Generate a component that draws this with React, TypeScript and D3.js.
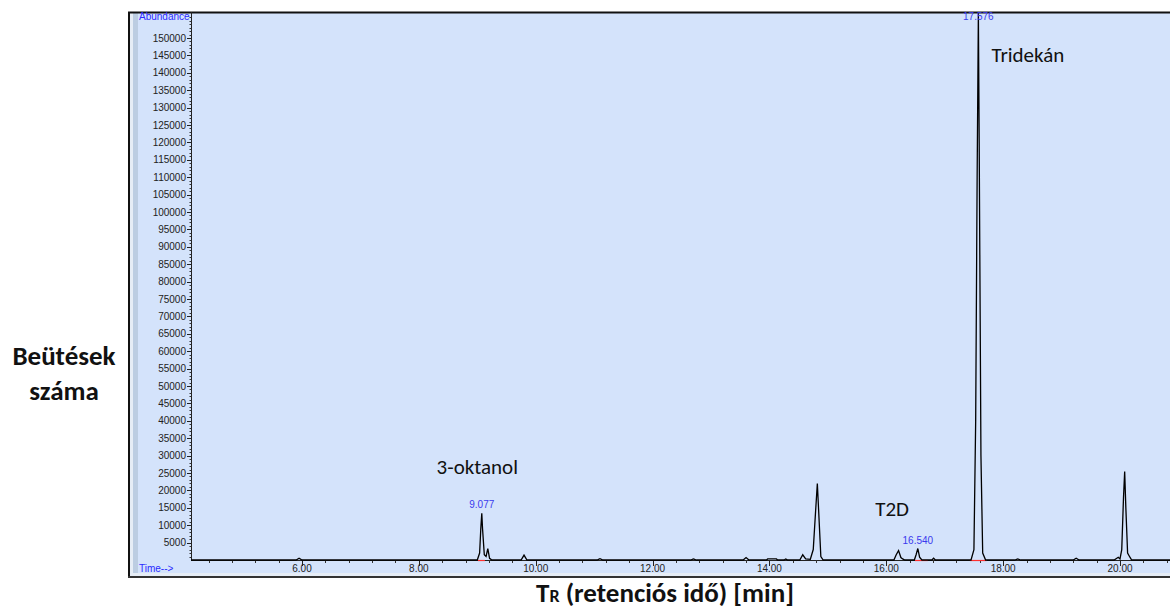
import React from "react";
import * as d3 from "d3";

// Chromatogram trace: [retention time (min), abundance]
const traceTimes: number[] = [
  4.1, 5.9, 5.95, 6.0,
  9.0, 9.04, 9.06, 9.077, 9.09, 9.12, 9.15, 9.18, 9.21, 9.25,
  9.75, 9.8, 9.85,
  11.05, 11.1, 11.15,
  12.65, 12.7, 12.75,
  13.55, 13.6, 13.65,
  13.95, 13.97, 14.12, 14.14,
  14.25, 14.28, 14.31,
  14.52, 14.57, 14.62,
  14.7, 14.75, 14.79, 14.82, 14.84, 14.88, 14.92,
  16.13, 16.17, 16.21, 16.25, 16.28, 16.32,
  16.48, 16.51, 16.54, 16.57, 16.61,
  16.78, 16.81, 16.84,
  17.45, 17.5, 17.53, 17.555, 17.576, 17.59, 17.62, 17.65, 17.7,
  18.2, 18.25, 18.3,
  19.2, 19.25, 19.3,
  19.9, 19.97, 20.0, 20.03, 20.06, 20.08, 20.1, 20.13, 20.17, 20.2,
  20.86,
];
const traceValues: number[] = [
  0, 0, 500, 0,
  0, 2000, 9000, 13400, 9000, 1500, 1000, 3300, 500, 0,
  0, 1400, 0,
  0, 400, 0,
  0, 300, 0,
  0, 700, 0,
  0, 300, 300, 0,
  0, 300, 0,
  0, 1500, 300,
  200, 3000, 14000, 22000, 15000, 1000, 0,
  0, 1500, 2700, 700, 300, 0,
  0, 1500, 3300, 800, 0,
  0, 500, 0,
  0, 3000, 40000, 110000, 157500, 120000, 30000, 2000, 0,
  0, 300, 0,
  0, 500, 0,
  0, 800, 300, 3000, 18000, 25400, 15000, 2000, 800, 0,
  0,
];

// Labelled peaks (retention time and apex abundance)
const peakTimes: number[] = [9.077, 16.54, 17.576];
const peakLabels: string[] = ["9.077", "16.540", "17.576"];
const peakHeights: number[] = [13400, 3300, 157500];

// Integration baselines (start, end in minutes)
const integStart: number[] = [9.01, 16.49, 17.43];
const integEnd: number[] = [9.13, 16.71, 17.72];

// Axis ticks
const xTickValues: number[] = [6, 8, 10, 12, 14, 16, 18, 20];
const xTickLabels: string[] = ["6.00", "8.00", "10.00", "12.00", "14.00", "16.00", "18.00", "20.00"];
const yTickValues: number[] = [
  5000, 10000, 15000, 20000, 25000, 30000, 35000, 40000, 45000, 50000,
  55000, 60000, 65000, 70000, 75000, 80000, 85000, 90000, 95000, 100000,
  105000, 110000, 115000, 120000, 125000, 130000, 135000, 140000, 145000, 150000,
];

// Compound annotations (anchor time, anchor abundance)
const compoundNames: string[] = ["3-oktanol", "T2D", "Tridekán"];
const compoundTimes: number[] = [9.0, 16.1, 17.8];
const compoundLevels: number[] = [24800, 12600, 143000];

const W = 1170;
const H = 609;
const frameLeft = 128;
const frameTop = 12;
const frameBottom = 577;
const axisX = 191;
const axisY = 560;

export default function App() {
  const x = d3.scaleLinear().domain([6, 20]).range([302, 1120]);
  const y = d3.scaleLinear().domain([0, 150000]).range([axisY, 38]);

  const points: [number, number][] = traceTimes.map((t, i) => [t, traceValues[i]]);
  const line = d3
    .line<[number, number]>()
    .x((d) => x(d[0]))
    .y((d) => Math.max(frameTop + 1, y(d[1])));

  const xMin = x.invert(axisX);
  const xMax = x.invert(W);
  const xMinor = d3.range(4.4, xMax, 0.4);
  const yMinor = d3.range(1000, 157000, 1000);

  const tickFont = "Arial, 'Liberation Sans', sans-serif";
  const noteFont = "Carlito, Calibri, Lato, 'Open Sans', sans-serif";

  return (
    <div style={{ position: "fixed", left: 0, top: 0, width: W, height: H, background: "#fff" }}>
      <svg width={W} height={H} style={{ display: "block" }}>
        <defs>
          <clipPath id="plotClip">
            <rect x={axisX} y={frameTop} width={W - axisX} height={axisY - frameTop + 2} />
          </clipPath>
        </defs>

        {/* Instrument frame */}
        <rect x={frameLeft} y={frameTop} width={W - frameLeft} height={frameBottom - frameTop} fill="#d4e3fb" />
        <rect x={frameLeft + 2} y={frameTop} width={3} height={frameBottom - frameTop} fill="#e6edf6" />
        <rect x={frameLeft + 5} y={frameTop} width={5} height={frameBottom - frameTop} fill="#bccde2" />
        <rect x={frameLeft} y={frameBottom - 4} width={W - frameLeft} height={3} fill="#e6edf6" />
        <line x1={frameLeft} x2={W} y1={frameTop + 0.5} y2={frameTop + 0.5} stroke="#111" strokeWidth={2} />
        <line x1={frameLeft + 1} x2={frameLeft + 1} y1={frameTop} y2={frameBottom} stroke="#111" strokeWidth={2} />
        <line x1={frameLeft} x2={W} y1={frameBottom} y2={frameBottom} stroke="#333" strokeWidth={2} />

        {/* Y axis */}
        <line x1={axisX + 0.5} x2={axisX + 0.5} y1={frameTop} y2={axisY} stroke="#222" strokeWidth={1} />
        {yMinor.map((v) => (
          <line key={"ym" + v} x1={axisX - 1.5} x2={axisX + 0.5} y1={Math.round(y(v)) + 0.5} y2={Math.round(y(v)) + 0.5} stroke="#333" strokeWidth={1} />
        ))}
        {yTickValues.map((v) => (
          <g key={"y" + v}>
            <line x1={axisX - 4} x2={axisX + 0.5} y1={Math.round(y(v)) + 0.5} y2={Math.round(y(v)) + 0.5} stroke="#222" strokeWidth={1} />
            <text x={axisX - 5} y={y(v)} dy="0.35em" textAnchor="end" fontFamily={tickFont} fontSize={10} fill="#222">
              {v}
            </text>
          </g>
        ))}
        <text x={139} y={20} fontFamily={tickFont} fontSize={10} fill="#2a2aff">Abundance</text>

        {/* X axis */}
        <line x1={axisX} x2={W} y1={axisY + 0.5} y2={axisY + 0.5} stroke="#222" strokeWidth={1} />
        {xMinor.filter((t) => t > xMin).map((t) => (
          <line key={"xm" + t} x1={Math.round(x(t)) + 0.5} x2={Math.round(x(t)) + 0.5} y1={axisY} y2={axisY + 3} stroke="#333" strokeWidth={1} />
        ))}
        {xTickValues.map((t, i) => (
          <g key={"x" + t}>
            <line x1={Math.round(x(t)) + 0.5} x2={Math.round(x(t)) + 0.5} y1={axisY} y2={axisY + 6} stroke="#222" strokeWidth={1} />
            <text x={x(t)} y={572} textAnchor="middle" fontFamily={tickFont} fontSize={10} fill="#222">
              {xTickLabels[i]}
            </text>
          </g>
        ))}
        <text x={139} y={572} fontFamily={tickFont} fontSize={10} fill="#2a2aff">Time--&gt;</text>

        {/* Chromatogram */}
        <g clipPath="url(#plotClip)">
          {integStart.map((s, i) => (
            <line key={"int" + i} x1={x(s)} x2={x(integEnd[i])} y1={axisY + 0.5} y2={axisY + 0.5} stroke="#ff3030" strokeWidth={1.2} />
          ))}
          <path d={line(points) ?? ""} fill="none" stroke="#000" strokeWidth={1.3} strokeLinejoin="miter" />
        </g>

        {/* Peak retention-time labels */}
        {peakTimes.map((t, i) => (
          <text
            key={"pk" + i}
            x={x(t)}
            y={Math.max(20, y(peakHeights[i]) - 5)}
            textAnchor="middle"
            fontFamily={tickFont}
            fontSize={10}
            fill="#3a3aee"
          >
            {peakLabels[i]}
          </text>
        ))}

        {/* Compound annotations */}
        {compoundNames.map((n, i) => (
          <text
            key={"c" + i}
            x={x(compoundTimes[i])}
            y={y(compoundLevels[i])}
            textAnchor={i === 2 ? "start" : "middle"}
            fontFamily={noteFont}
            fontSize={21}
            fill="#111"
          >
            {n}
          </text>
        ))}

        {/* Axis titles */}
        <text x={64} y={365} textAnchor="middle" fontFamily={noteFont} fontWeight="bold" fontSize={27} fill="#111">Beütések</text>
        <text x={64} y={400} textAnchor="middle" fontFamily={noteFont} fontWeight="bold" fontSize={27} fill="#111">száma</text>
        <text x={665} y={602} textAnchor="middle" fontFamily={noteFont} fontWeight="bold" fontSize={27} fill="#111">
          T<tspan fontSize={18}>R</tspan> (retenciós idő) [min]
        </text>
      </svg>
    </div>
  );
}
